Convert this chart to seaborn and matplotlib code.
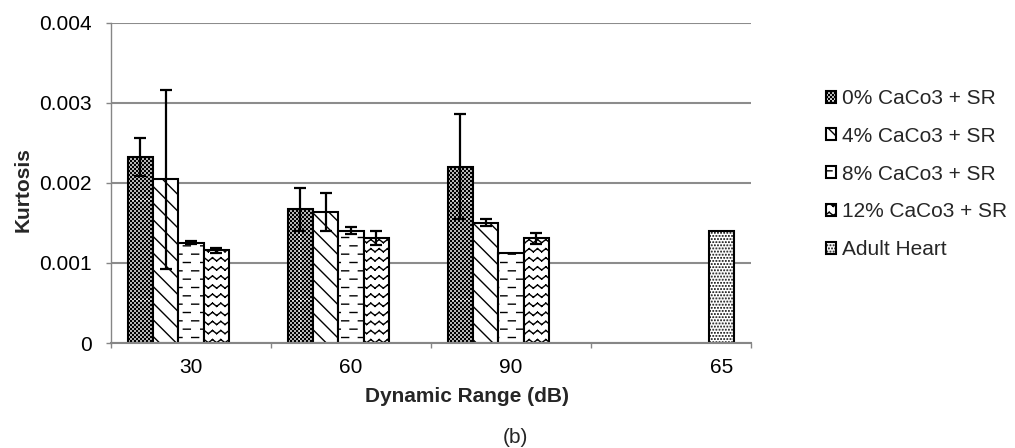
import warnings
warnings.filterwarnings("ignore")
import numpy as np
import pandas as pd
import matplotlib
matplotlib.use("Agg")
import matplotlib.pyplot as plt
import matplotlib.hatch as mhatch
from matplotlib.path import Path
from matplotlib.patches import Patch
from matplotlib.ticker import FixedLocator, FuncFormatter
import seaborn as sns

# ---------------- data ----------------
categories = ["30", "60", "90", "65"]
series = ["0% CaCo3 + SR", "4% CaCo3 + SR", "8% CaCo3 + SR",
          "12% CaCo3 + SR", "Adult Heart"]
nan = np.nan
kurt_0 = [0.002323, 0.001673, 0.002206, nan]
err_0 = [0.00024, 0.00027, 0.00066, nan]
kurt_4 = [0.002044, 0.001640, 0.001506, nan]
err_4 = [0.00112, 0.00024, 0.00004, nan]
kurt_8 = [0.001256, 0.001406, 0.001127, nan]
err_8 = [0.00002, 0.00004, 0.0, nan]
kurt_12 = [0.001160, 0.001315, 0.001310, nan]
err_12 = [0.00003, 0.00009, 0.00007, nan]
kurt_adult = [nan, nan, nan, 0.00140]
err_adult = [nan, nan, nan, 0.0]

values = [kurt_0, kurt_4, kurt_8, kurt_12, kurt_adult]
errors = [err_0, err_4, err_8, err_12, err_adult]

rows = []
for s, vals, errs in zip(series, values, errors):
    for c, v, e in zip(categories, vals, errs):
        if not np.isnan(v):
            rows.append({"range": c, "series": s, "kurtosis": v, "err": e})
df = pd.DataFrame(rows)


# ---------------- custom hatch patterns ----------------
class _CustomHatch(mhatch.HatchPatternBase):
    char = "?"

    def __init__(self, hatch, density):
        n = hatch.count(self.char)
        if n:
            self.verts, self.codes = self.build(n, density)
            self.num_vertices = len(self.verts)
        else:
            self.num_vertices = 0

    def set_vertices_and_codes(self, vertices, codes):
        vertices[:] = self.verts
        codes[:] = self.codes


class DashHatch(_CustomHatch):
    char = "d"

    def build(self, n, density):
        rows_n = 12
        cols_n = 6
        v, c = [], []
        for r in range(rows_n):
            y = (r + 0.5) / rows_n
            off = 0.5 if r % 2 else 0.0
            for j in range(cols_n):
                x0 = (j + off) / cols_n
                x1 = (j + off + 0.42) / cols_n
                v += [(x0, y), (x1, y)]
                c += [Path.MOVETO, Path.LINETO]
        return np.array(v), np.array(c, dtype=Path.code_type)


class ZigzagHatch(_CustomHatch):
    char = "z"

    def build(self, n, density):
        rows_n = 11
        per = 12
        amp = 0.35 / rows_n
        v, c = [], []
        for r in range(rows_n):
            y = (r + 0.3) / rows_n
            for k in range(2 * per):
                x0 = k / (2 * per)
                x1 = (k + 1) / (2 * per)
                y0 = y + (amp if k % 2 else 0)
                y1 = y + (0 if k % 2 else amp)
                v += [(x0, y0), (x1, y1)]
                c += [Path.MOVETO, Path.LINETO]
        return np.array(v), np.array(c, dtype=Path.code_type)


class CheckerHatch(_CustomHatch):
    char = "k"

    def build(self, n, density):
        N = 50
        s = 0.009
        v, c = [], []
        for i in range(N):
            for j in range(N):
                if (i + j) % 2 == 0:
                    x = (i + 0.5) / N
                    y = (j + 0.5) / N
                    v += [(x - s / 2, y - s / 2), (x + s / 2, y - s / 2),
                          (x + s / 2, y + s / 2), (x - s / 2, y + s / 2),
                          (x - s / 2, y - s / 2)]
                    c += [Path.MOVETO, Path.LINETO, Path.LINETO,
                          Path.LINETO, Path.CLOSEPOLY]
        return np.array(v), np.array(c, dtype=Path.code_type)


class DotHatch(_CustomHatch):
    char = "q"

    def build(self, n, density):
        N = 32
        s = 0.003
        v, c = [], []
        for j in range(N):
            off = 0.5 if j % 2 else 0.0
            for i in range(N):
                x = (i + off + 0.25) / N
                y = (j + 0.5) / N
                v += [(x - s / 2, y - s / 2), (x + s / 2, y - s / 2),
                      (x + s / 2, y + s / 2), (x - s / 2, y + s / 2),
                      (x - s / 2, y - s / 2)]
                c += [Path.MOVETO, Path.LINETO, Path.LINETO,
                      Path.LINETO, Path.CLOSEPOLY]
        return np.array(v), np.array(c, dtype=Path.code_type)


mhatch._hatch_types.extend([DashHatch, ZigzagHatch, CheckerHatch, DotHatch])

hatches = ["k", "\\\\", "d", "z", "q"]

# ---------------- styling ----------------
sns.set_style("white")
plt.rcParams["font.family"] = ["Liberation Sans", "DejaVu Sans"]
plt.rcParams["hatch.linewidth"] = 1.0
plt.rcParams["hatch.color"] = "black"

W, H = 1015, 448
fig = plt.figure(figsize=(W / 100, H / 100), dpi=100)
ax = fig.add_axes([111 / W, 105 / H, 640 / W, 320 / H])

BAR_W = 0.79
sns.barplot(data=df, x="range", y="kurtosis", hue="series",
            order=categories, hue_order=series, width=BAR_W, gap=0,
            errorbar=None, palette=["white"] * 5, edgecolor="black",
            linewidth=1.5, saturation=1, legend=False, ax=ax)

slot = BAR_W / len(series)
adult_center = None
for p in ax.patches:
    xc = p.get_x() + p.get_width() / 2
    ci = int(round(xc))
    hi = int(round((xc - ci + BAR_W / 2 - slot / 2) / slot))
    p.set_hatch(hatches[hi])
    p.set_facecolor("white")
    p.set_edgecolor("black")
    p.set_linewidth(1.5)
    e = errors[hi][ci]
    if hi == 4:
        adult_center = xc
    if e and not np.isnan(e) and e > 0:
        ax.errorbar(xc, p.get_height(), yerr=e, fmt="none", ecolor="black",
                    elinewidth=1.6, capsize=4.3, capthick=1.6, zorder=5)

# axes
ax.set_xlim(-0.5, len(categories) - 0.5)
ax.set_ylim(0, 0.004)
ax.set_axisbelow(True)
ax.yaxis.grid(True, color="#8c8c8c", linewidth=1.5)
ax.xaxis.grid(False)
for s in ["top", "right"]:
    ax.spines[s].set_visible(False)
ax.spines["left"].set_color("#868686")
ax.spines["left"].set_linewidth(1.0)
ax.spines["bottom"].set_color("#868686")
ax.spines["bottom"].set_linewidth(1.5)

ax.yaxis.set_major_locator(FixedLocator([0, 0.001, 0.002, 0.003, 0.004]))
ax.yaxis.set_major_formatter(FuncFormatter(lambda v, _: "0" if v == 0 else f"{v:.3f}"))
ax.tick_params(axis="y", which="major", direction="out", length=3.6, width=1,
               color="#868686", labelsize=15, pad=10, labelcolor="black", left=True)

tick_pos = [0, 1, 2, adult_center if adult_center is not None else 3]
ax.xaxis.set_major_locator(FixedLocator(tick_pos))
ax.set_xticklabels(categories)
ax.xaxis.set_minor_locator(FixedLocator([-0.5, 0.5, 1.5, 2.5, 3.5]))
ax.tick_params(axis="x", which="major", length=0, labelsize=15, pad=11,
               labelcolor="black", bottom=True)
ax.tick_params(axis="x", which="minor", direction="out", length=3.6, width=1,
               color="#868686", bottom=True)
ax.set_xlabel("")
ax.set_ylabel("")

fig.text(467 / W, 1 - 396 / H, "Dynamic Range (dB)", ha="center", va="center",
         fontsize=15, fontweight="bold")
fig.text(23 / W, 1 - 190 / H, "Kurtosis", ha="center", va="center",
         rotation=90, fontsize=15, fontweight="bold")
fig.text(515 / W, 1 - 437 / H, "(b)", ha="center", va="center", fontsize=15)

# legend
handles = [Patch(facecolor="white", edgecolor="black", hatch=h, linewidth=1.5)
           for h in hatches]
fig.legend(handles, series, loc="upper left",
           bbox_to_anchor=(826 / W, 1 - 89 / H), frameon=False, fontsize=15,
           handlelength=0.5, handleheight=0.5, handletextpad=0.25,
           labelspacing=0.90, borderpad=0, borderaxespad=0)

fig.savefig("out.png", dpi=100, facecolor="white")
